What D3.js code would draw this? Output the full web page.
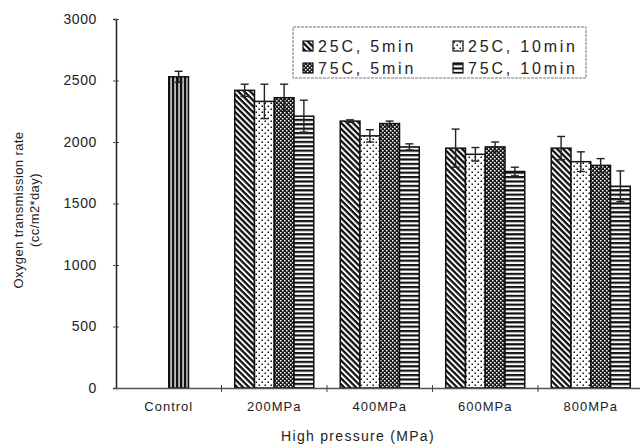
<!DOCTYPE html>
<html>
<head>
<meta charset="utf-8">
<script src="https://cdn.jsdelivr.net/npm/d3@7/dist/d3.min.js"></script>
<style>
  html, body { margin: 0; padding: 0; background: #fff; }
  svg { display: block; }
  text { font-family: "Liberation Sans", Arial, sans-serif; fill: #222; }
</style>
</head>
<body>
<script>
// Oxygen transmission rate after high-pressure treatment
const categories = ["Control", "200MPa", "400MPa", "600MPa", "800MPa"];
const seriesNames = ["25C, 5min", "25C, 10min", "75C, 5min", "75C, 10min"];

// treated samples: one array per pressure level, in series order
const treated = {
  "200MPa": [2420, 2330, 2360, 2210],
  "400MPa": [2170, 2050, 2150, 1960],
  "600MPa": [1950, 1900, 1960, 1760],
  "800MPa": [1950, 1840, 1810, 1640]
};
const treatedErr = {
  "200MPa": [50, 140, 110, 130],
  "400MPa": [10, 50, 20, 25],
  "600MPa": [155, 55, 40, 35],
  "800MPa": [95, 80, 55, 125]
};
const controlValue = 2530;
const controlErr = 45;

const yTicks = [0, 500, 1000, 1500, 2000, 2500, 3000];

const W = 640, H = 448;
const FONT = "'Liberation Sans', Arial, sans-serif";
const svg = d3.select("body").append("svg").attr("width", W).attr("height", H);

// fill patterns
const defs = svg.append("defs");
function pat(id, w, h, bg, transform) {
  const p = defs.append("pattern").attr("id", id)
    .attr("patternUnits", "userSpaceOnUse").attr("width", w).attr("height", h);
  if (transform) p.attr("patternTransform", transform);
  p.append("rect").attr("width", w).attr("height", h).attr("fill", bg);
  return p;
}
// control: dark with thin white vertical lines
pat("pCtrl", 4, 4, "#111").append("rect").attr("x", 2.4).attr("width", 1.3).attr("height", 4).attr("fill", "#fff");
// 25C 5min: back-diagonal stripes
pat("pDiag", 4, 4.2, "#fff", "rotate(45)").append("rect").attr("width", 4).attr("height", 2.3).attr("fill", "#111");
// 25C 10min: sparse dots
{
  const p = pat("pDots", 6, 6, "#fff");
  p.append("rect").attr("x", 0.5).attr("y", 0.5).attr("width", 1.5).attr("height", 1.5).attr("fill", "#111");
  p.append("rect").attr("x", 3.5).attr("y", 3.5).attr("width", 1.5).attr("height", 1.5).attr("fill", "#111");
}
// 75C 5min: dense dark hatch
{
  const p = pat("pHatch", 4, 4, "#1a1a1a");
  p.append("rect").attr("x", 0).attr("y", 0).attr("width", 1.5).attr("height", 1.5).attr("fill", "#fff");
  p.append("rect").attr("x", 2).attr("y", 2).attr("width", 1.5).attr("height", 1.5).attr("fill", "#fff");
}
// 75C 10min: horizontal stripes
pat("pHoriz", 4, 4.4, "#fff").append("rect").attr("width", 4).attr("height", 2.2).attr("fill", "#111");

const seriesFill = ["url(#pDiag)", "url(#pDots)", "url(#pHatch)", "url(#pHoriz)"];

// scales
const x0 = d3.scaleBand().domain(categories).range([116, 643.5]).paddingInner(0).paddingOuter(0);
const x1 = d3.scaleBand().domain(d3.range(seriesNames.length)).range([0, x0.bandwidth()])
  .paddingInner(0).paddingOuter(0.67);
const y = d3.scaleLinear().domain([0, 3000]).range([388, 19]);

// bar records
const bars = [];
bars.push({ cat: "Control", slot: 2, value: controlValue, err: controlErr, fill: "url(#pCtrl)" });
categories.slice(1).forEach(c => {
  treated[c].forEach((v, i) => bars.push({ cat: c, slot: i, value: v, err: treatedErr[c][i], fill: seriesFill[i] }));
});

const g = svg.append("g");
g.selectAll("rect.bar").data(bars).join("rect")
  .attr("class", "bar")
  .attr("x", d => x0(d.cat) + x1(d.slot))
  .attr("y", d => y(d.value))
  .attr("width", x1.bandwidth())
  .attr("height", d => y(0) - y(d.value))
  .attr("fill", d => d.fill)
  .attr("stroke", "#111")
  .attr("stroke-width", 1.5);

// error bars
const eb = g.selectAll("g.err").data(bars).join("g").attr("class", "err")
  .attr("transform", d => `translate(${x0(d.cat) + x1(d.slot) + x1.bandwidth() / 2},0)`);
eb.append("line").attr("y1", d => y(d.value + d.err)).attr("y2", d => y(d.value - d.err))
  .attr("stroke", "#222").attr("stroke-width", 1.4);
eb.append("line").attr("x1", -4).attr("x2", 4).attr("y1", d => y(d.value + d.err)).attr("y2", d => y(d.value + d.err))
  .attr("stroke", "#222").attr("stroke-width", 1.4);
eb.append("line").attr("x1", -4).attr("x2", 4).attr("y1", d => y(d.value - d.err)).attr("y2", d => y(d.value - d.err))
  .attr("stroke", "#222").attr("stroke-width", 1.4);

// y axis
const yAxis = d3.axisLeft(y).tickValues(yTicks).tickSize(3).tickPadding(16).tickFormat(d3.format("d"));
const ya = svg.append("g").attr("transform", "translate(116,0)").call(yAxis);
ya.select(".domain").attr("stroke", "#222").attr("stroke-width", 1.5);
ya.selectAll(".tick line").attr("stroke", "#444").attr("x2", 3).attr("x1", -3);
ya.selectAll(".tick text").attr("font-size", 14).attr("fill", "#222").attr("letter-spacing", "0.6px")
  .style("font-family", FONT);

// x axis
const xa = svg.append("g").attr("transform", `translate(0,${y(0)})`)
  .call(d3.axisBottom(x0).tickSize(0).tickPadding(14));
xa.select(".domain").attr("stroke", "#555").attr("stroke-width", 1.5);
xa.selectAll(".tick text").attr("font-size", 13).attr("fill", "#222").attr("letter-spacing", "1px")
  .style("font-family", FONT);
// boundary ticks between categories
svg.append("g").selectAll("line").data(categories.slice(1)).join("line")
  .attr("x1", d => x0(d)).attr("x2", d => x0(d))
  .attr("y1", y(0) - 3).attr("y2", y(0) + 4)
  .attr("stroke", "#444").attr("stroke-width", 1);

// axis titles
svg.append("text").attr("x", 358).attr("y", 441).attr("text-anchor", "middle")
  .attr("font-size", 14).attr("letter-spacing", "1.3px").text("High pressure (MPa)");
const yt = svg.append("text").attr("transform", "translate(23,210) rotate(-90)")
  .attr("text-anchor", "middle").attr("font-size", 13).attr("letter-spacing", "0.4px");
yt.append("tspan").attr("x", 0).attr("dy", 0).text("Oxygen transmission rate");
yt.append("tspan").attr("x", 0).attr("dy", 16).text("(cc/m2*day)");

// legend
const lg = svg.append("g").attr("transform", "translate(293,27)");
lg.append("rect").attr("width", 293).attr("height", 51).attr("fill", "#fff")
  .attr("stroke", "#777").attr("stroke-width", 1).attr("stroke-dasharray", "3,1");
const li = lg.selectAll("g.item").data(seriesNames).join("g").attr("class", "item")
  .attr("transform", (d, i) => `translate(${10 + (i % 2) * 150},${i < 2 ? 14 : 36})`);
li.append("rect").attr("width", 10).attr("height", 10)
  .attr("fill", (d, i) => seriesFill[i]).attr("stroke", "#111").attr("stroke-width", 1.2);
li.append("text").attr("x", 15).attr("y", 11).attr("font-size", 16).attr("letter-spacing", "2.8px")
  .text(d => d);
</script>
</body>
</html>
